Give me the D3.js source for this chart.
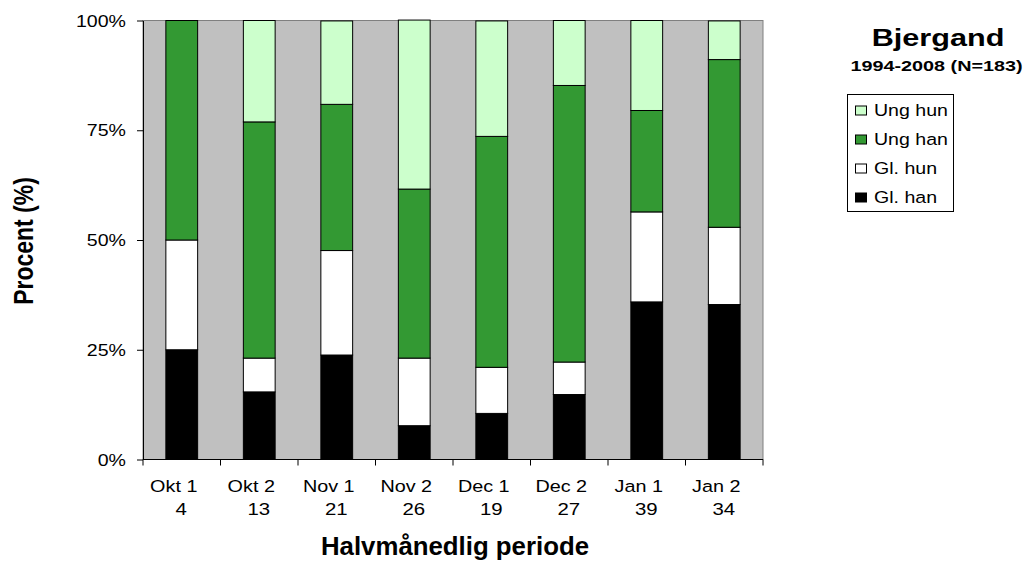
<!DOCTYPE html>
<html><head><meta charset="utf-8">
<script src="https://cdn.jsdelivr.net/npm/d3@7"></script>
<style>body{margin:0;background:#fff;} svg{display:block;font-family:"Liberation Sans",Arial,sans-serif;}</style>
</head><body>
<svg id="c" width="1026" height="561"></svg>
<script>
const categories = ["Okt 1","Okt 2","Nov 1","Nov 2","Dec 1","Dec 2","Jan 1","Jan 2"];
const counts = [4,13,21,26,19,27,39,34];
// percentages per half-month period
const glHan  = [25.0, 15.4, 23.8,  7.7, 10.5, 14.8, 35.9, 35.3];
const glHun  = [25.0,  7.7, 23.8, 15.4, 10.5,  7.4, 20.5, 17.6];
const ungHan = [50.0, 53.8, 33.3, 38.5, 52.6, 63.0, 23.1, 38.2];
const ungHun = [ 0.0, 23.1, 19.0, 38.5, 26.3, 14.8, 20.5,  8.8];
const seriesNames = ["Gl. han","Gl. hun","Ung han","Ung hun"];
const seriesColors = ["#000000","#ffffff","#339933","#ccffcc"];
const yTicks = [0,25,50,75,100];

const svg = d3.select("#c");
const m = {l:143, r:763, t:20.5, b:459.5};
const x = d3.scaleBand().domain(categories).range([m.l,m.r]).paddingInner(0.59).paddingOuter(0.295);
const y = d3.scaleLinear().domain([0,100]).range([m.b,m.t]);

// stretched text helper (reference text is horizontally widened)
function txt(parent, px, py, str, size, opts={}){
  const sx = opts.sx ?? 1.2;
  const g = parent.append("g").attr("transform",`translate(${px},${py}) scale(${sx},1)`);
  return g.append("text").attr("x",0).attr("y",0)
    .attr("text-anchor",opts.anchor||"start")
    .attr("font-size",size).attr("font-weight",opts.weight||"normal")
    .attr("fill","#000").text(str);
}

svg.append("rect").attr("x",m.l).attr("y",m.t).attr("width",m.r-m.l).attr("height",m.b-m.t)
  .attr("fill","#c0c0c0").attr("stroke","#808080").attr("stroke-width",1);

const table = categories.map((c,i)=>({cat:c,"Gl. han":glHan[i],"Gl. hun":glHun[i],"Ung han":ungHan[i],"Ung hun":ungHun[i]}));
const stack = d3.stack().keys(seriesNames)(table);
stack.forEach((s,si)=>{
  svg.append("g").selectAll("rect").data(s).join("rect")
    .attr("x",d=>x(d.data.cat)).attr("width",x.bandwidth())
    .attr("y",d=>y(d[1])).attr("height",d=>y(d[0])-y(d[1]))
    .attr("fill",seriesColors[si]).attr("stroke","#000").attr("stroke-width",1)
    .attr("display",d=>d[1]-d[0]>0?null:"none");
});

// y axis
const ya = svg.append("g").attr("transform",`translate(${m.l},0)`)
  .call(d3.axisLeft(y).tickValues(yTicks).tickFormat("").tickSize(6).tickSizeOuter(0));
ya.select(".domain").attr("stroke","#000");
ya.selectAll(".tick line").attr("stroke","#000");
const yl = svg.append("g");
yTicks.forEach(v=>{ txt(yl, 126, y(v)+6, v+"%", 16.3, {anchor:"end"}); });

// x axis
const xa = svg.append("g").attr("transform",`translate(0,${m.b})`);
xa.append("line").attr("x1",m.l).attr("x2",m.r).attr("stroke","#000");
d3.range(categories.length+1).forEach(i=>{
  const xx = m.l + i*(m.r-m.l)/categories.length;
  xa.append("line").attr("x1",xx).attr("x2",xx).attr("y1",0).attr("y2",6).attr("stroke","#000");
});
const xl = svg.append("g");
categories.forEach((c,i)=>{
  const cx = x(c)+x.bandwidth()/2;
  txt(xl, cx-8, 491.5, c, 16.5, {anchor:"middle"});
  txt(xl, cx-0.5, 514.5, counts[i], 17, {anchor:"middle"});
});

svg.append("text").attr("x",455).attr("y",555).attr("text-anchor","middle")
  .attr("font-size",25.8).attr("font-weight","bold").text("Halvmånedlig periode");
svg.append("g").attr("transform","translate(33,241) scale(1.2,1) rotate(-90)")
  .append("text").attr("text-anchor","middle")
  .attr("font-size",23).attr("font-weight","bold").text("Procent (%)");

txt(svg, 938, 46, "Bjergand", 24.7, {anchor:"middle", weight:"bold", sx:1.24});
txt(svg, 936.5, 70.7, "1994-2008 (N=183)", 15, {anchor:"middle", weight:"bold", sx:1.32});

// legend
const lg = svg.append("g");
lg.append("rect").attr("x",847.5).attr("y",94.5).attr("width",106).attr("height",117)
  .attr("fill","#fff").attr("stroke","#000");
const legOrder = [3,2,1,0];
legOrder.forEach((si,k)=>{
  const base = 115.5 + k*29;
  lg.append("rect").attr("x",855.5).attr("y",base-9.5).attr("width",11).attr("height",9)
    .attr("fill",seriesColors[si]).attr("stroke","#000");
  txt(lg, 874, base, seriesNames[si], 16.3);
});
</script>
</body></html>
